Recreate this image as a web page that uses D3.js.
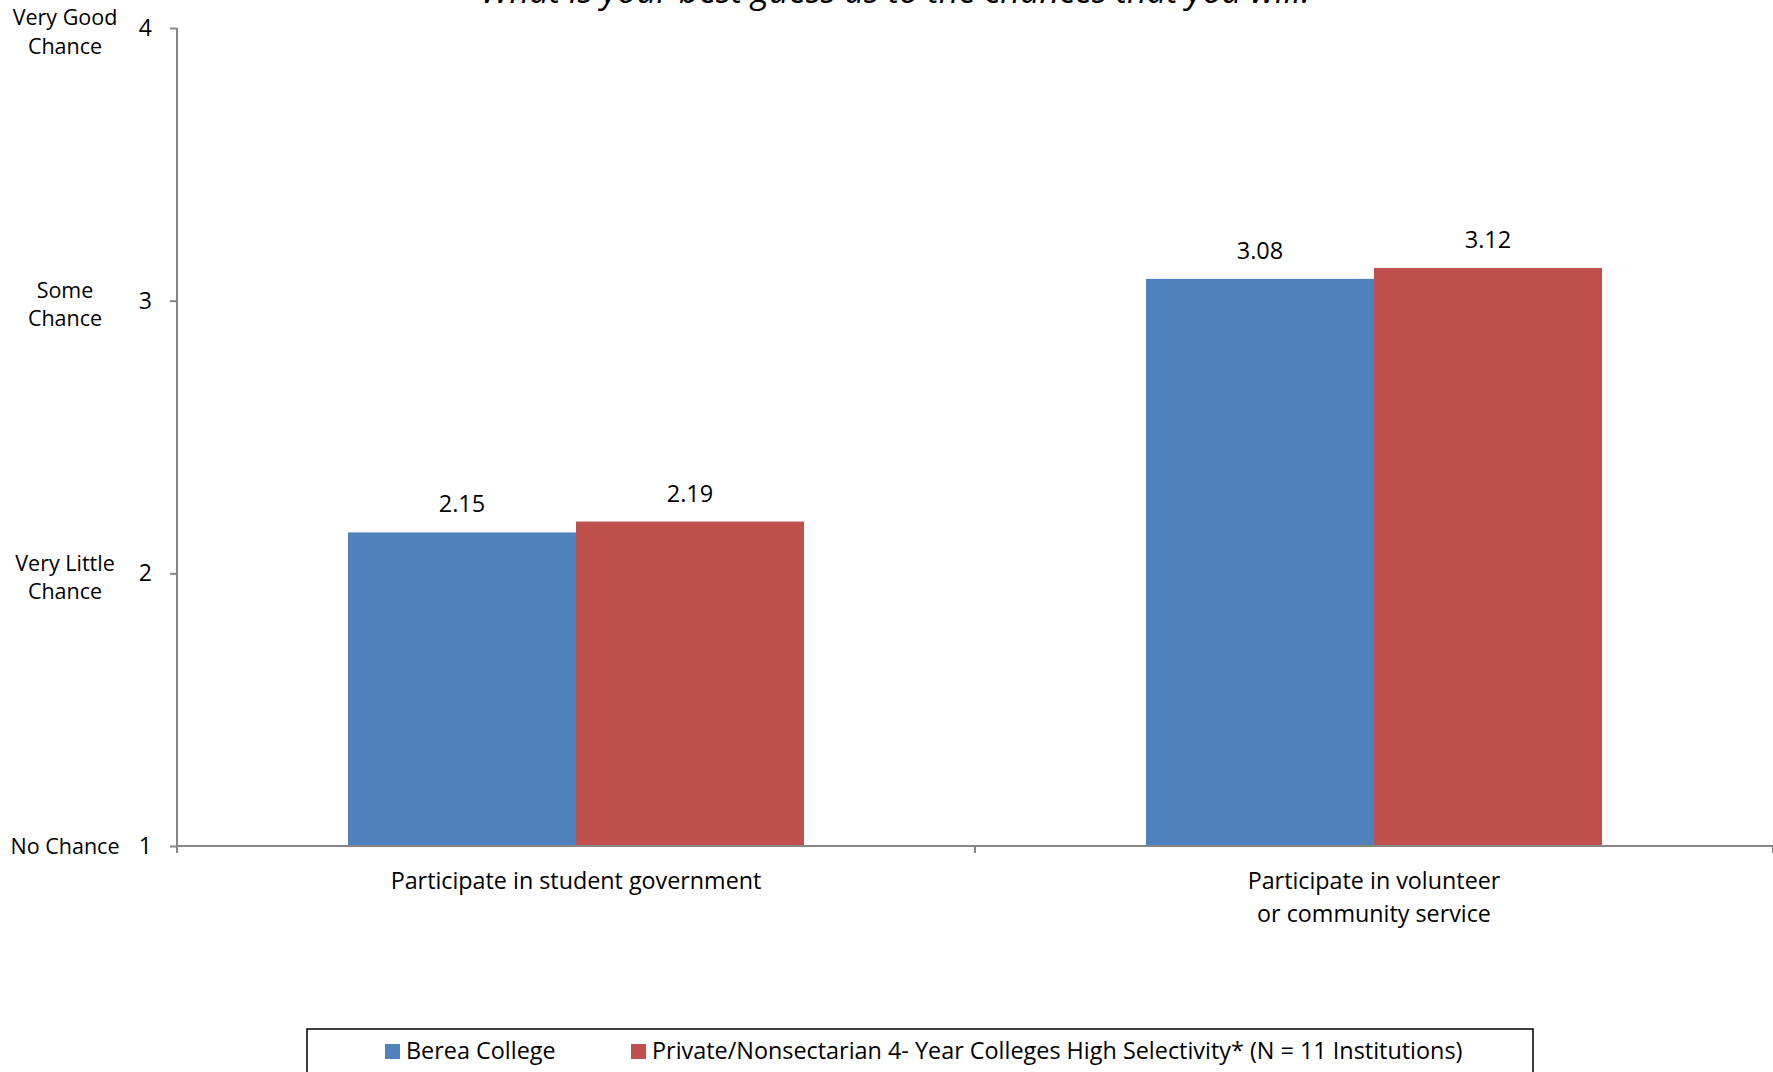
<!DOCTYPE html>
<html>
<head>
<meta charset="utf-8">
<script src="https://cdn.jsdelivr.net/npm/d3@7"></script>
<style>
  html, body { margin: 0; padding: 0; background: #fff; }
  svg { display: block; font-family: "Open Sans", Lato, sans-serif; }
</style>
</head>
<body>
<script>
// Survey item categories (x axis) and the two comparison groups
const categories = ["Participate in student government", "Participate in volunteer\nor community service"];
const seriesNames = ["Berea College", "Private/Nonsectarian 4- Year Colleges High Selectivity* (N = 11 Institutions)"];
const bereaValues = [2.15, 3.08];
const peerValues = [2.19, 3.12];
const seriesColors = ["#4F81BD", "#C0504D"];

// Likert scale ticks and their verbal anchors
const tickValues = [1, 2, 3, 4];
const tickAnchors = ["No Chance", "Very Little\nChance", "Some\nChance", "Very Good\nChance"];

const title = "What is your best guess as to the chances that you will:";

const W = 1773, H = 1072;
const plot = { left: 177, right: 1773, top: 28, bottom: 846 };
const fontSize = 23.3;

const svg = d3.select("body").append("svg").attr("width", W).attr("height", H);

const y = d3.scaleLinear().domain([1, 4]).range([plot.bottom, plot.top]);
const x = d3.scaleBand().domain(categories).range([plot.left, plot.right]).padding(0);
// Excel-style 150% gap width: two bars in a slot of 3.5 bar widths
const xs = d3.scaleBand().domain(seriesNames).range([0, x.bandwidth()]).paddingInner(0).paddingOuter(0.75);

const rows = categories.map((c, i) => ({ cat: c, values: [bereaValues[i], peerValues[i]] }));

// Title (sits partly above the top edge)
svg.append("text")
  .attr("x", 895).attr("y", 3)
  .attr("text-anchor", "middle")
  .attr("font-style", "italic")
  .attr("font-size", 34.4)
  .attr("fill", "#000")
  .text(title);

// Bars
const groups = svg.selectAll("g.cat").data(rows).join("g")
  .attr("class", "cat")
  .attr("transform", d => `translate(${x(d.cat)},0)`);

groups.selectAll("rect").data(d => d.values.map((v, j) => ({ v, s: seriesNames[j], j }))).join("rect")
  .attr("x", d => xs(d.s))
  .attr("width", xs.bandwidth())
  .attr("y", d => y(d.v))
  .attr("height", d => y(1) - y(d.v))
  .attr("fill", d => seriesColors[d.j]);

// Value labels
groups.selectAll("text.val").data(d => d.values.map((v, j) => ({ v, s: seriesNames[j], j }))).join("text")
  .attr("class", "val")
  .attr("x", d => xs(d.s) + xs.bandwidth() / 2)
  .attr("y", d => y(d.v) - 20)
  .attr("text-anchor", "middle")
  .attr("font-size", 23.5)
  .attr("fill", "#000")
  .text(d => d.v.toFixed(2));

// Y axis
const yAxis = svg.append("g")
  .attr("transform", `translate(${plot.left},0)`)
  .call(d3.axisLeft(y).tickValues(tickValues).tickSize(7).tickSizeOuter(0).tickPadding(18).tickFormat(d3.format("d")));
yAxis.select(".domain").attr("stroke", "#868686").attr("stroke-width", 2)
  .attr("d", `M0,${y(4)}V${y(1) + 7}`);
yAxis.selectAll(".tick line").attr("stroke", "#868686").attr("stroke-width", 2);
yAxis.selectAll(".tick text").attr("font-size", 23).attr("font-family", "'Open Sans', sans-serif").attr("fill", "#000");

// Verbal anchors beside the tick numbers (two-line anchors sit slightly below the tick)
tickValues.forEach((v, i) => {
  const lines = tickAnchors[i].split("\n");
  const lh = 28.5;
  const shift = lines.length > 1 ? 4 : 0;
  const t = svg.append("text")
    .attr("text-anchor", "middle")
    .attr("font-size", 21.5)
    .attr("fill", "#000");
  lines.forEach((ln, k) => {
    t.append("tspan")
      .attr("x", 65)
      .attr("y", y(v) + shift + (k - (lines.length - 1) / 2) * lh)
      .attr("dy", "0.35em")
      .text(ln);
  });
});

// X axis line with category boundary ticks
const xAxis = svg.append("g");
xAxis.append("line")
  .attr("x1", plot.left).attr("x2", plot.right)
  .attr("y1", y(1)).attr("y2", y(1))
  .attr("stroke", "#868686").attr("stroke-width", 2);
const bounds = categories.map(c => x(c)).concat([x(categories[categories.length - 1]) + x.bandwidth()]);
xAxis.selectAll("line.b").data(bounds).join("line")
  .attr("class", "b")
  .attr("x1", d => d).attr("x2", d => d)
  .attr("y1", y(1)).attr("y2", y(1) + 7)
  .attr("stroke", "#868686").attr("stroke-width", 2);

// Category labels
categories.forEach(c => {
  const lines = c.split("\n");
  const t = svg.append("text")
    .attr("text-anchor", "middle")
    .attr("font-size", fontSize)
    .attr("fill", "#000");
  lines.forEach((ln, k) => {
    t.append("tspan")
      .attr("x", x(c) + x.bandwidth() / 2)
      .attr("y", y(1) + 35 + k * 33)
      .attr("dy", "0.35em")
      .text(ln);
  });
});

// Legend
const legend = svg.append("g");
legend.append("rect")
  .attr("x", 307).attr("y", 1029)
  .attr("width", 1226).attr("height", 80)
  .attr("fill", "#fff").attr("stroke", "#000").attr("stroke-width", 1.5);
const legendX = [385, 631];
seriesNames.forEach((s, i) => {
  legend.append("rect")
    .attr("x", legendX[i]).attr("y", 1044)
    .attr("width", 15).attr("height", 15)
    .attr("fill", seriesColors[i]);
  legend.append("text")
    .attr("x", legendX[i] + 21).attr("y", 1059)
    .attr("font-size", 23.4)
    .attr("fill", "#000")
    .text(s);
});
</script>
</body>
</html>
